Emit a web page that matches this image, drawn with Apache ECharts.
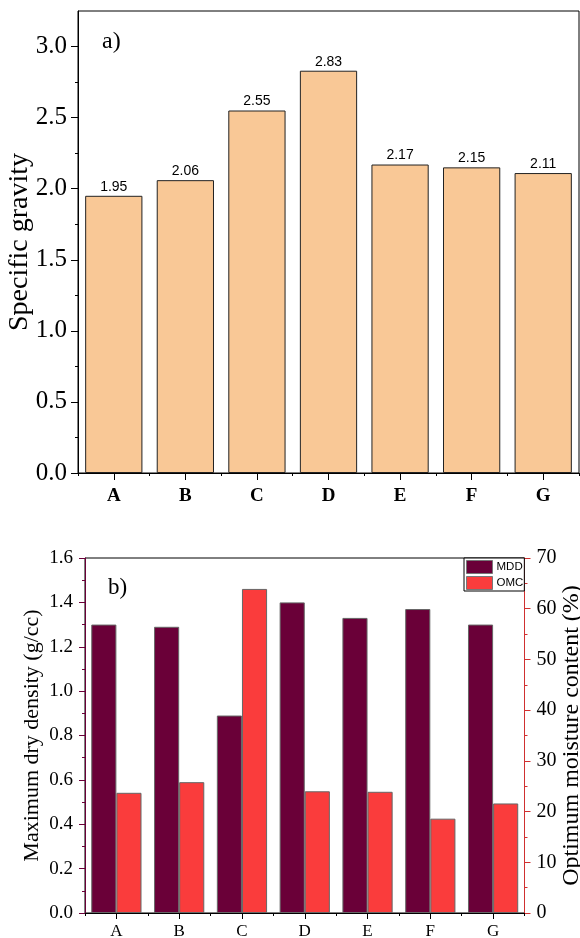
<!DOCTYPE html>
<html><head><meta charset="utf-8">
<script src="https://cdn.jsdelivr.net/npm/echarts@6/dist/echarts.min.js"></script>
<style>html,body{margin:0;padding:0;background:#fff}#c{width:580px;height:938px}</style>
</head><body><div id="c"></div>
<script>
const categories = ['A','B','C','D','E','F','G'];
const specificGravity = [1.95, 2.06, 2.55, 2.83, 2.17, 2.15, 2.11];
const sgMajorTicks = [0, 0.5, 1.0, 1.5, 2.0, 2.5, 3.0];
const sgMinorTicks = [0.25, 0.75, 1.25, 1.75, 2.25, 2.75];
const mdd = [1.30, 1.29, 0.89, 1.40, 1.33, 1.37, 1.30];
const omc = [23.7, 25.8, 63.9, 24.0, 23.9, 18.6, 21.6];

const serif = '"Liberation Serif", "Times New Roman", serif';
const sans = '"Liberation Sans", Arial, sans-serif';
const maroon = '#6a0038';
const red = '#fa3c3c';
const redAxis = '#d03030';

const chart = echarts.init(document.getElementById('c'));
chart.setOption({
  backgroundColor: '#fff',
  animation: false,
  grid: [
    {left: 78, top: 11, width: 501, height: 462, show: true, borderColor: '#000', borderWidth: 1,
     backgroundColor: 'transparent', containLabel: false, outerBoundsMode: 'none'},
    {left: 85, top: 558, width: 439.5, height: 355, show: true, borderColor: '#000', borderWidth: 1,
     backgroundColor: 'transparent', containLabel: false, outerBoundsMode: 'none'}
  ],
  legend: {
    data: ['MDD', 'OMC'], orient: 'vertical', left: 464, top: 558,
    padding: [2, 1, 1, 2], itemWidth: 26, itemHeight: 13, itemGap: 2,
    borderColor: '#000', borderWidth: 1, backgroundColor: '#fff',
    icon: 'rect', itemStyle: {borderColor: '#777', borderWidth: 1},
    textStyle: {fontFamily: sans, fontSize: 11.5, color: '#000', padding: [0, 0, 0, -1]}
  },
  graphic: [
    {type: 'text', left: 102, top: 30, style: {text: 'a)', font: '24px ' + serif, fill: '#000'}},
    {type: 'text', left: 108, top: 576, style: {text: 'b)', font: '23px ' + serif, fill: '#000'}}
  ],
  xAxis: [
    {type: 'category', gridIndex: 0, data: categories, position: 'bottom',
     axisLine: {lineStyle: {color: '#000'}}, axisTick: {show: true, alignWithLabel: true, length: 7, lineStyle: {color: '#000'}},
     axisLabel: {fontFamily: serif, fontWeight: 'bold', fontSize: 19, color: '#000', margin: 14}},
    {type: 'category', gridIndex: 0, data: categories, position: 'bottom',
     axisLine: {show: false}, axisTick: {show: true, length: 3, lineStyle: {color: '#000'}}, axisLabel: {show: false}},
    {type: 'category', gridIndex: 1, data: categories, position: 'bottom',
     axisLine: {lineStyle: {color: '#000'}}, axisTick: {show: true, alignWithLabel: true, length: 6, lineStyle: {color: '#000'}},
     axisLabel: {fontFamily: serif, fontSize: 17, color: '#000', margin: 10}},
    {type: 'category', gridIndex: 1, data: categories, position: 'bottom',
     axisLine: {show: false}, axisTick: {show: true, length: 3, lineStyle: {color: '#000'}}, axisLabel: {show: false}}
  ],
  yAxis: [
    {type: 'value', gridIndex: 0, position: 'left', min: 0, max: 3.25, interval: 0.5,
     name: 'Specific gravity', nameLocation: 'middle', nameGap: 44, nameMoveOverlap: false,
     nameTextStyle: {fontFamily: serif, fontSize: 28, color: '#000'},
     axisLine: {show: true, lineStyle: {color: '#000'}},
     axisTick: {show: true, length: 7, customValues: sgMajorTicks, lineStyle: {color: '#000'}},
     axisLabel: {customValues: sgMajorTicks, fontFamily: serif, fontSize: 25, color: '#000', margin: 11,
                 formatter: v => v.toFixed(1)},
     splitLine: {show: false}},
    {type: 'value', gridIndex: 0, position: 'left', min: 0, max: 3.25,
     axisLine: {show: false}, axisLabel: {show: false}, splitLine: {show: false},
     axisTick: {show: true, length: 3, customValues: sgMinorTicks, lineStyle: {color: '#000'}}},
    {type: 'value', gridIndex: 1, position: 'left', min: 0, max: 1.6, interval: 0.2,
     name: 'Maximum dry density (g/cc)', nameLocation: 'middle', nameGap: 42, nameMoveOverlap: false,
     nameTextStyle: {fontFamily: serif, fontSize: 22, color: '#000'},
     axisLine: {show: true, lineStyle: {color: maroon}},
     axisTick: {show: true, length: 6, lineStyle: {color: maroon}},
     minorTick: {show: true, splitNumber: 2, length: 3, lineStyle: {color: maroon}},
     axisLabel: {fontFamily: serif, fontSize: 19, color: '#000', margin: 12, formatter: v => v.toFixed(1)},
     splitLine: {show: false}},
    {type: 'value', gridIndex: 1, position: 'right', min: 0, max: 70, interval: 10,
     name: 'Optimum moisture content (%)', nameLocation: 'middle', nameGap: 35, nameRotate: 90, nameMoveOverlap: false,
     nameTextStyle: {fontFamily: serif, fontSize: 24, color: '#000'},
     axisLine: {show: true, lineStyle: {color: redAxis}},
     axisTick: {show: true, length: 6, lineStyle: {color: redAxis}},
     minorTick: {show: true, splitNumber: 2, length: 3, lineStyle: {color: redAxis}},
     axisLabel: {fontFamily: serif, fontSize: 20, color: '#000', margin: 12},
     splitLine: {show: false}}
  ],
  series: [
    {type: 'bar', xAxisIndex: 0, yAxisIndex: 0, data: specificGravity, barCategoryGap: '20%',
     itemStyle: {color: '#f9c896', borderColor: '#222', borderWidth: 1},
     label: {show: true, position: 'top', distance: 2, fontFamily: sans, fontSize: 14, color: '#000',
             formatter: p => p.value.toFixed(2)}},
    {type: 'bar', name: 'MDD', xAxisIndex: 2, yAxisIndex: 2, data: mdd, barGap: '0%', barCategoryGap: '20%',
     itemStyle: {color: maroon, borderColor: '#666', borderWidth: 1}},
    {type: 'bar', name: 'OMC', xAxisIndex: 2, yAxisIndex: 3, data: omc, barGap: '0%', barCategoryGap: '20%',
     itemStyle: {color: red, borderColor: '#666', borderWidth: 1}}
  ]
});
</script></body></html>
